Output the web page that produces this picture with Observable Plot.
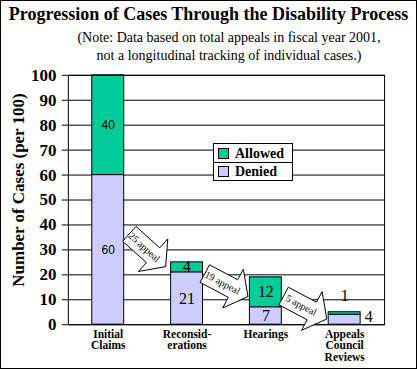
<!DOCTYPE html>
<html><head><meta charset="utf-8">
<script src="https://cdn.jsdelivr.net/npm/d3@7"></script>
<script src="https://cdn.jsdelivr.net/npm/@observablehq/plot@0.6"></script>
<style>
body{margin:0;background:#fff}
#wrap{position:relative;width:417px;height:369px;box-sizing:border-box;border:1px solid #000;overflow:hidden;background:#fff}
#title{position:absolute;left:0;top:3px;width:415px;text-align:center;font:bold 18px "Liberation Serif";white-space:nowrap}
#sub{position:absolute;left:40px;top:28px;width:376px;text-align:center;font:14px/18px "Liberation Serif"}
#chart{position:absolute;left:-1px;top:-1px}
#legend{position:absolute;left:212px;top:142px;width:80px;height:38px;border:1px solid #000;background:#fff;box-sizing:border-box;font:bold 14px/17px "Liberation Serif"}
#legend .row{height:18px;display:flex;align-items:center}
#legend .row + .row{border-top:1px solid #000;height:17px}
#legend .sw{width:9px;height:9px;border:1px solid #000;margin:0 6px 0 4px}
</style></head>
<body>
<div id="wrap">
  <div id="chart"></div>
  <div id="title"></div>
  <div id="sub"></div>
  <div id="legend"></div>
</div>
<script>
const titleText = "Progression of Cases Through the Disability Process";
const subtitleLines = ["(Note: Data based on total appeals in fiscal year 2001,", "not a longitudinal tracking of individual cases.)"];
const categories = ["Initial Claims", "Reconsiderations", "Hearings", "Appeals Council Reviews"];
const tickLabels = ["Initial\nClaims", "Reconsid-\nerations", "Hearings", "Appeals\nCouncil\nReviews"];
const denied = [60, 21, 7, 4];
const allowed = [40, 4, 12, 1];
const statuses = ["Denied", "Allowed"];
const statusColors = ["#CCCCFF", "#00CC99"];
const legendOrder = ["Allowed", "Denied"];
const yTicks = [0, 10, 20, 30, 40, 50, 60, 70, 80, 90, 100];
const yLabel = "Number of Cases (per 100)";
const arrowFrom = ["Initial Claims", "Reconsiderations", "Hearings"];
const arrowLevel = [30, 16, 7];
const arrowText = ["25 appeal", "19 appeal", "5 appeal"];
const arrowAngle = [42, 28, 28];

document.getElementById("title").textContent = titleText;
document.getElementById("sub").innerHTML = subtitleLines.map(s => `<div>${s}</div>`).join("");
document.getElementById("legend").innerHTML = legendOrder.map(s =>
  `<div class="row"><span class="sw" style="background:${statusColors[statuses.indexOf(s)]}"></span>${s}</div>`).join("");

const rows = categories.flatMap((c, i) => [
  {cat: c, status: "Denied", value: denied[i]},
  {cat: c, status: "Allowed", value: allowed[i]}
]);

const inLabels = [];
categories.forEach((c, i) => {
  if (i === 3) return;
  inLabels.push({cat: c, y: denied[i] / 2, text: String(denied[i]), sans: i === 0});
  inLabels.push({cat: c, y: denied[i] + allowed[i] / 2, text: String(allowed[i]), sans: i === 0});
});
const last = categories.length - 1;
const lastTop = [{cat: categories[last], y: denied[last] + allowed[last], text: String(allowed[last])}];
const lastSide = [{cat: categories[last], y: denied[last] / 2, text: String(denied[last])}];

const arrows = arrowFrom.map((c, i) => ({cat: c, y: arrowLevel[i], text: arrowText[i], angle: arrowAngle[i]}));

function arrowSymbol(angle) {
  const a = angle * Math.PI / 180, co = Math.cos(a), si = Math.sin(a);
  const pts = [[-24, -10], [8, -10], [8, -22], [25, 0], [8, 22], [8, 10], [-24, 10]];
  return {draw(ctx) {
    pts.forEach(([x, y], k) => {
      const X = x * co - y * si, Y = x * si + y * co;
      k ? ctx.lineTo(X, Y) : ctx.moveTo(X, Y);
    });
    ctx.closePath();
  }};
}

const arrowMarks = arrows.flatMap(a => {
  const r = a.angle * Math.PI / 180;
  return [
    Plot.dot([a], {x: "cat", y: "y", dx: 39, r: 10, symbol: arrowSymbol(a.angle), fill: "white", stroke: "black", strokeWidth: 1}),
    Plot.text([a], {x: "cat", y: "y", text: "text", dx: 39 - 4 * Math.cos(r), dy: -4 * Math.sin(r), rotate: a.angle, fontSize: 10, fill: "black"})
  ];
});

const chart = Plot.plot({
  width: 417,
  height: 369,
  marginLeft: 68,
  marginRight: 32,
  marginTop: 75,
  marginBottom: 44,
  style: {fontFamily: "Liberation Serif", background: "transparent", color: "black"},
  x: {domain: categories, paddingInner: 0.6, paddingOuter: 0.3},
  y: {domain: [0, 100]},
  color: {domain: statuses, range: statusColors},
  marks: [
    Plot.ruleY(yTicks, {stroke: "black", strokeWidth: 1}),
    Plot.barY(rows, {x: "cat", y: "value", fill: "status", order: statuses, stroke: "black", strokeWidth: 1}),
    Plot.frame({stroke: "black", strokeWidth: 1}),
    Plot.axisY({ticks: yTicks, tickSize: 6, tickPadding: 6, fontSize: 17, fontWeight: "bold", label: null}),
    Plot.text([yLabel], {frameAnchor: "left", textAnchor: "middle", text: d => d, rotate: -90, dx: -50, dy: -10, fontSize: 17, fontWeight: "bold", fill: "black"}),
    Plot.axisX({tickSize: 0, tickPadding: 5, fontSize: 11.5, fontWeight: "bold", lineHeight: 1,
      tickFormat: d => tickLabels[categories.indexOf(d)], label: null}),
    Plot.text(inLabels.filter(d => d.sans), {x: "cat", y: "y", text: "text", fontFamily: "Liberation Sans", fontSize: 12, fill: "black"}),
    Plot.text(inLabels.filter(d => !d.sans), {x: "cat", y: "y", text: "text", fontSize: 16, fill: "black"}),
    Plot.text(lastTop, {x: "cat", y: "y", text: "text", dy: -16, fontSize: 16, fill: "black"}),
    Plot.text(lastSide, {x: "cat", y: "y", text: "text", dx: 24, dy: -3, fontSize: 16, fill: "black"}),
    ...arrowMarks
  ]
});
document.getElementById("chart").appendChild(chart);
</script>
</body></html>
